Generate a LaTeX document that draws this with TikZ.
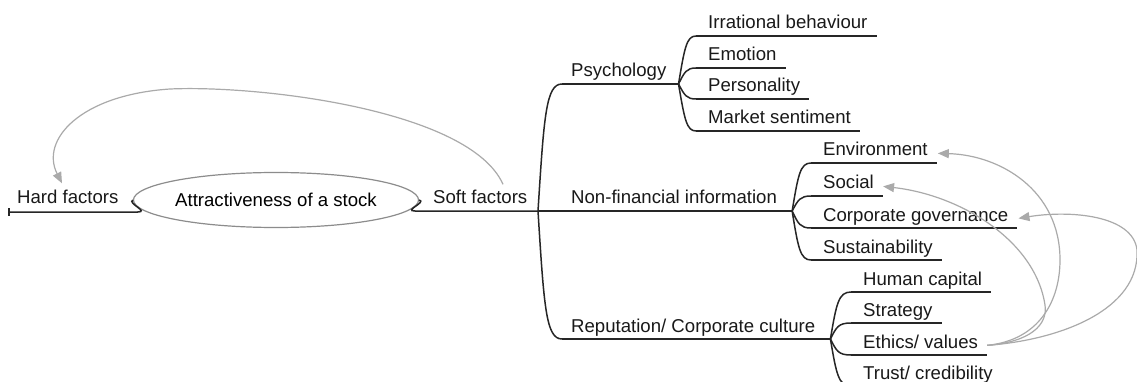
\documentclass[tikz,border=0pt]{standalone}
\usepackage{fontspec}
\setmainfont{Liberation Sans}
\usetikzlibrary{arrows.meta,calc,shapes.geometric}
\definecolor{brc}{HTML}{262626}
\definecolor{arc}{HTML}{AAAAAA}
\definecolor{elc}{HTML}{8C8C8C}
\newcommand\mmbranch[2]{\draw[br] let \p1=(#1), \p2=(#2) in (#1) .. controls (\x1+6pt,{\y2+0.25*(\y1-(\y2))}) and (\x1+8pt,\y2) .. (#2);}
\newcommand\mmleaf[5]{%
  \node[lab] (#1) at (#2,#3) {#4};
  \coordinate (#1S) at ($(#1.base west)+(-12,7)$);
  \draw[br] (#1S) -- ($(#1.base east)+(9,7)$);
  \mmbranch{#5}{#1S}}
\begin{document}
\begin{tikzpicture}[x=1pt,y=-1pt,
  lab/.style={inner sep=0pt,anchor=base west,font=\fontsize{18.6}{22}\selectfont,text=black!90},
  br/.style={draw=brc,line width=1.5pt},
  gar/.style={draw=arc,line width=1.2pt,-{Triangle[length=11pt,width=9pt,fill=arc]}}]
\useasboundingbox (0,0) rectangle (1137,382);
\fill[white] (0,0) rectangle (1137,382);
\clip (0,0) rectangle (1137,382);
% root
\node[ellipse,draw=elc,line width=1.2pt,minimum width=238pt,minimum height=55pt,inner sep=0pt,
      font=\fontsize{18.6}{22}\selectfont] (ell) at (276,200) {Attractiveness of a stock};
\node[lab] (hard) at (17,204) {Hard factors};
\node[lab] (soft) at (433,204) {Soft factors};
\coordinate (hardL) at ($(hard.base west)+(-8,8)$);
\coordinate (hardR) at ($(hard.base east)+(19,8)$);
\draw[br] ($(hardL)+(0,-4)$) -- ($(hardL)+(0,4)$);
\draw[br] (hardL) -- (hardR) .. controls +(12,0) and +(-6,3) .. (ell.west);
\coordinate (root) at (538,211);
\coordinate (softL) at ($(soft.base west)+(-18,7)$);
\draw[br] (ell.east) .. controls +(8,2) and +(-12,0) .. (softL) -- (root);
% level 2
\node[lab] (psy) at (571,77) {Psychology};
\node[lab] (nfi) at (571,204) {Non-financial information};
\node[lab] (rep) at (571,332) {Reputation/ Corporate culture};
\coordinate (psyS) at ($(psy.base west)+(-9,7)$);
\coordinate (psyP) at ($(psy.base east)+(12,7)$);
\coordinate (nfiP) at ($(nfi.base east)+(15,7)$);
\coordinate (repS) at ($(rep.base west)+(-9,7)$);
\coordinate (repP) at ($(rep.base east)+(15,7)$);
\draw[br] (psyS) -- (psyP);
\draw[br] (root) -- (nfiP);
\draw[br] (repS) -- (repP);
\mmbranch{root}{psyS}
\mmbranch{root}{repS}
% leaves
\mmleaf{irr}{708}{29}{Irrational behaviour}{psyP}
\mmleaf{emo}{708}{61}{Emotion}{psyP}
\mmleaf{per}{708}{92}{Personality}{psyP}
\mmleaf{mkt}{708}{124}{Market sentiment}{psyP}
\mmleaf{env}{823}{156}{Environment}{nfiP}
\mmleaf{soc}{823}{189}{Social}{nfiP}
\mmleaf{cg}{823}{221}{Corporate governance}{nfiP}
\mmleaf{sus}{823}{253}{Sustainability}{nfiP}
\mmleaf{hum}{863}{285}{Human capital}{repP}
\mmleaf{str}{863}{316}{Strategy}{repP}
\mmleaf{eth}{863}{348}{Ethics/ values}{repP}
\mmleaf{tru}{863}{379}{Trust/ credibility}{repP}
% gray relation arrows
\coordinate (softT) at ($(soft.north west)+(70,-6)$);
\coordinate (hardT) at ($(hard.north west)+(45,-7)$);
\draw[gar] (softT) .. controls (470,110) and (260,85) .. (170,89) .. controls (80,95) and (40,140) .. (hardT);
\coordinate (ethT) at ($(eth.mid east)+(9,0)$);
\coordinate (envT) at ($(env.mid east)+(10,0)$);
\coordinate (socT) at ($(soc.mid east)+(9,0)$);
\coordinate (cgT) at ($(cg.mid east)+(10,0)$);
\draw[gar] (ethT) .. controls (1040,340) and (1060,300) .. (1060,260) .. controls (1060,190) and (1000,155) .. (envT);
\draw[gar] (ethT) .. controls (1030,342) and (1048,325) .. (1045,305) .. controls (1035,240) and (960,195) .. (socT);
\draw[gar] (ethT) .. controls (1060,340) and (1140,310) .. (1137,250) .. controls (1133,215) and (1070,210) .. (cgT);
\end{tikzpicture}
\end{document}
